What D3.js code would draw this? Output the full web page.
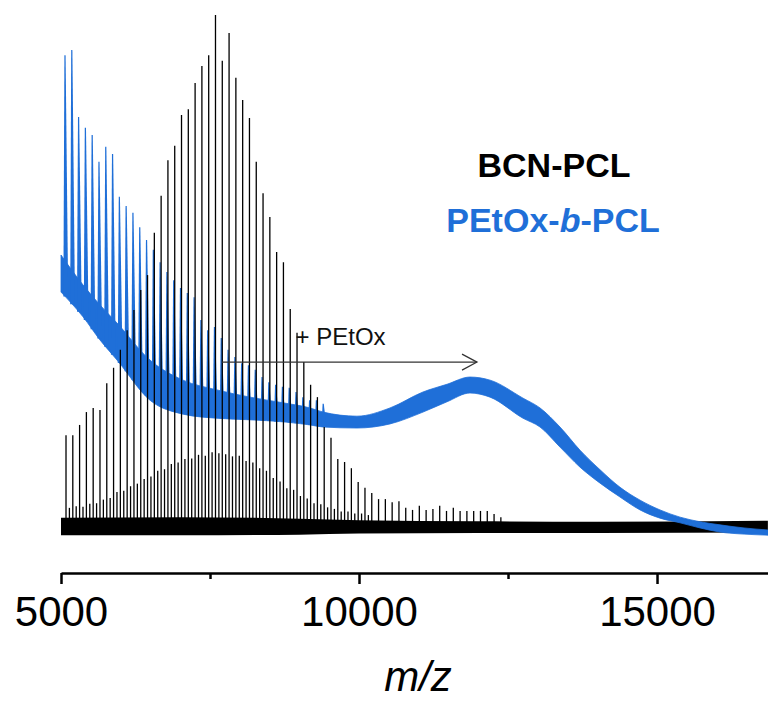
<!DOCTYPE html>
<html>
<head>
<meta charset="utf-8">
<script src="https://cdn.jsdelivr.net/npm/d3@7"></script>
<style>
  body { margin: 0; background: #fff; }
  svg { display: block; }
</style>
</head>
<body>
<svg id="chart"></svg>
<script>
// ---- values (intensity in % of the tallest BCN-PCL peak) ----

// BCN-PCL: main peak series (PCL repeat, 114 Da)
const bcnPeakMz = [5084, 5198, 5312, 5426, 5540, 5654, 5768, 5882, 5996, 6110,
  6224, 6338, 6452, 6566, 6680, 6794, 6908, 7022, 7136, 7250,
  7364, 7478, 7592, 7706, 7820, 7934, 8048, 8162, 8276, 8390,
  8504, 8618, 8732, 8846, 8960, 9074, 9188, 9302, 9416, 9530,
  9644, 9758, 9872, 9986, 10100, 10214, 10328, 10442, 10556, 10670,
  10784, 10898, 11012, 11126, 11240, 11354, 11468, 11582, 11696, 11810,
  11924, 12038, 12152, 12266, 12380];
const bcnPeakInt = [18.4, 18.4, 20.4, 22.9, 23.7, 23.3, 28.5, 31.5, 35.0, 38.8,
  42.7, 46.6, 49.5, 57.7, 64.9, 71.8, 74.6, 80.6, 81.7, 86.8,
  90.1, 92.2, 100, 91.1, 96.5, 87.8, 83.5, 80.0, 71.5, 65.4,
  60.8, 54.0, 52.0, 42.9, 38.3, 32.6, 28.2, 25.8, 20.0, 17.9,
  13.8, 13.2, 12.0, 9.3, 8.2, 7.2, 6.0, 6.0, 5.4, 5.6,
  4.3, 3.9, 4.7, 3.9, 4.1, 4.7, 3.7, 4.3, 3.7, 3.7,
  3.7, 3.7, 3.7, 3.1, 2.5];

// BCN-PCL: smaller side series between the main peaks
const bcnSubMz = [5141, 5255, 5369, 5483, 5597, 5711, 5825, 5939, 6053, 6167,
  6281, 6395, 6509, 6623, 6737, 6851, 6965, 7079, 7193, 7307,
  7421, 7535, 7649, 7763, 7877, 7991, 8105, 8219, 8333, 8447,
  8561, 8675, 8789, 8903, 9017, 9131, 9245, 9359, 9473, 9587,
  9701, 9815, 9929, 10043, 10157];
const bcnSubInt = [4.3, 4.6, 4.5, 5.1, 5.2, 5.9, 6.2, 7.4, 7.6, 8.5,
  9.0, 9.9, 10.4, 11.5, 11.8, 12.8, 13.1, 13.8, 13.9, 14.6,
  14.4, 15.1, 14.9, 14.7, 14.3, 14.4, 13.4, 13.1, 12.0, 11.5,
  10.1, 9.4, 8.1, 7.8, 6.6, 6.1, 5.2, 5.0, 4.4, 4.1,
  3.6, 3.6, 3.2, 3.2, 2.9];

// BCN-PCL: baseline noise band
const bcnNoiseMz = [5000, 7000, 9000, 10000, 12000, 14000, 16860];
const bcnNoiseLow = [-1.0, -1.0, -0.9, -0.7, -0.6, -0.6, -0.5];
const bcnNoiseHigh = [2.4, 2.5, 2.2, 1.9, 1.7, 1.6, 1.8];

// PEtOx-b-PCL: spikes riding on the broad signal
const petoxPeakMz = [5067, 5181, 5295, 5409, 5523, 5637, 5751, 5865, 5979, 6093,
  6207, 6321, 6435, 6549, 6663, 6777, 6891, 7005, 7119, 7233,
  7347, 7461, 7575, 7689, 7803, 7917, 8031, 8145, 8259, 8373,
  8487, 8601, 8715, 8829, 8943, 9057, 9171, 9285, 9399];
const petoxPeakInt = [92.2, 93.2, 80.2, 78.1, 76.7, 71.5, 74.4, 73.0, 64.7, 62.9,
  61.6, 58.8, 56.3, 54.4, 52.0, 50.1, 48.5, 47.0, 46.0, 45.2,
  40.8, 38.8, 39.4, 37.3, 35.0, 33.6, 32.4, 32.0, 31.1, 29.7,
  28.7, 28.2, 27.8, 27.6, 26.8, 25.8, 25.2, 25.2, 24.5];

// PEtOx-b-PCL: broad signal (lower / upper edge of the noisy trace)
const petoxBandMz = [5000, 5369, 5654, 5940, 6493, 7047, 7617, 8171, 8725, 9178,
  9396, 9966, 10520, 11074, 11477, 11862, 12198, 12752, 13037, 13372,
  13708, 14044, 14379, 14715, 15050, 15386, 15722, 16057, 16460, 16862];
const petoxBandLow = [46.2, 41.4, 36.9, 33.0, 25.2, 22.5, 21.7, 21.4, 21.0, 20.4,
  20.0, 19.8, 20.6, 22.9, 24.9, 26.6, 25.8, 21.7, 20.0, 16.1,
  12.2, 9.1, 6.4, 3.9, 2.3, 1.4, 0.4, -0.4, -0.8, -1.0];
const petoxBandHigh = [53.4, 47.6, 43.7, 40.2, 33.0, 29.1, 27.2, 25.8, 24.7, 23.7,
  22.9, 22.1, 23.7, 26.8, 28.3, 29.7, 29.1, 25.6, 23.7, 20.0,
  15.5, 11.7, 8.3, 5.8, 3.9, 2.5, 1.6, 1.0, 0.4, 0.0];

const xTicks = [5000, 10000, 15000];
const xMinorTicks = [7500, 12500];
const seriesNames = ["BCN-PCL", "PEtOx", "PCL"];
const shiftLabel = "+ PEtOx";
const shiftFrom = 7700, shiftTo = 11980, shiftLevel = 32.6;

// ---- layout ----
const svg_width = 768, svg_height = 702;
const blue = "#1f6fd8";

const svg = d3.select("#chart")
  .attr("width", svg_width)
  .attr("height", svg_height)
  .style("font-family", "'Liberation Sans', Arial, sans-serif");

const xScale = d3.scaleLinear().domain([5000, 16862]).range([61, 768]);
const yScale = d3.scaleLinear().domain([0, 100]).range([530, 15]);

const chart = svg.append("g");

// black baseline noise (drawn first, blue goes over it)
const noise = bcnNoiseMz.map((m, i) => ({mz: m, lo: bcnNoiseLow[i], hi: bcnNoiseHigh[i]}));
chart.append("path")
  .datum(noise)
  .attr("fill", "#000")
  .attr("d", d3.area()
    .x(d => xScale(d.mz))
    .y0(d => yScale(d.lo))
    .y1(d => yScale(d.hi))
    .curve(d3.curveMonotoneX));

// blue broad trace
const band = petoxBandMz.map((m, i) => ({mz: m, lo: petoxBandLow[i], hi: petoxBandHigh[i]}));
chart.append("path")
  .datum(band)
  .attr("fill", blue)
  .attr("stroke", blue)
  .attr("stroke-width", 0.8)
  .attr("d", d3.area()
    .x(d => xScale(d.mz))
    .y0(d => yScale(d.lo))
    .y1(d => yScale(d.hi))
    .curve(d3.curveMonotoneX));

// spikes start from the lower edge of the blue trace, drawn as narrow wedges
const bandLowAt = d3.scaleLinear().domain(petoxBandMz).range(petoxBandLow);
chart.append("g")
  .selectAll("path")
  .data(petoxPeakMz.map((m, i) => ({mz: m, v: petoxPeakInt[i]})))
  .enter()
  .append("path")
    .attr("d", d => {
      const px = xScale(d.mz), yb = yScale(bandLowAt(d.mz)), yt = yScale(d.v);
      return `M${px - 1.6},${yb} L${px - 0.6},${yt} L${px + 0.6},${yt} L${px + 3.2},${yb} Z`;
    })
    .attr("fill", blue);

// black side series
chart.append("g")
  .selectAll("line")
  .data(bcnSubMz.map((m, i) => ({mz: m, v: bcnSubInt[i]})))
  .enter()
  .append("line")
    .attr("x1", d => xScale(d.mz))
    .attr("x2", d => xScale(d.mz))
    .attr("y1", yScale(0))
    .attr("y2", d => yScale(d.v))
    .attr("stroke", "#000")
    .attr("stroke-width", 1.3);

// black main series
chart.append("g")
  .selectAll("line")
  .data(bcnPeakMz.map((m, i) => ({mz: m, v: bcnPeakInt[i]})))
  .enter()
  .append("line")
    .attr("x1", d => xScale(d.mz))
    .attr("x2", d => xScale(d.mz))
    .attr("y1", yScale(0))
    .attr("y2", d => yScale(d.v))
    .attr("stroke", "#000")
    .attr("stroke-width", 1.3);

// "+ PEtOx" shift arrow
const ay = yScale(shiftLevel);
chart.append("line")
  .attr("x1", xScale(shiftFrom)).attr("x2", xScale(shiftTo))
  .attr("y1", ay).attr("y2", ay)
  .attr("stroke", "#333").attr("stroke-width", 1.2);
chart.append("path")
  .attr("d", `M${xScale(shiftTo) - 15},${ay - 8} L${xScale(shiftTo)},${ay} L${xScale(shiftTo) - 15},${ay + 8}`)
  .attr("fill", "none")
  .attr("stroke", "#333").attr("stroke-width", 1.2);
chart.append("text")
  .attr("x", xScale(8935))
  .attr("y", 345)
  .text(shiftLabel)
  .style("font-size", "24px")
  .style("fill", "#111");

// legend
svg.append("text")
  .attr("x", 554).attr("y", 177)
  .attr("text-anchor", "middle")
  .style("font-size", "34px").style("font-weight", "bold")
  .style("fill", "#000")
  .text(seriesNames[0]);
const lg = svg.append("text")
  .attr("x", 553).attr("y", 232)
  .attr("text-anchor", "middle")
  .style("font-size", "34px").style("font-weight", "bold")
  .style("fill", blue);
lg.append("tspan").text(seriesNames[1] + "-");
lg.append("tspan").style("font-style", "italic").text("b");
lg.append("tspan").text("-" + seriesNames[2]);

// x axis
const xAxis = d3.axisBottom(xScale)
  .tickValues(xTicks)
  .tickSize(11)
  .tickSizeOuter(0)
  .tickFormat(d3.format("d"));
const gx = chart.append("g")
  .attr("transform", "translate(0,573)")
  .call(xAxis);
gx.select(".domain").attr("stroke-width", 2.5);
gx.selectAll(".tick line").attr("stroke-width", 2.5);
gx.selectAll(".tick text")
  .attr("y", 53).attr("dy", 0)
  .style("font-size", "42px")
  .style("font-family", "'Liberation Sans', Arial, sans-serif")
  .attr("fill", "#000");

chart.append("g")
  .attr("transform", "translate(0,573)")
  .call(d3.axisBottom(xScale).tickValues(xMinorTicks).tickSize(6).tickFormat(""))
  .call(g => g.select(".domain").remove())
  .selectAll(".tick line").attr("stroke-width", 2.5);

// axis title
svg.append("text")
  .attr("x", 418).attr("y", 691)
  .attr("text-anchor", "middle")
  .style("font-size", "42px").style("font-style", "italic")
  .text("m/z");
</script>
</body>
</html>
